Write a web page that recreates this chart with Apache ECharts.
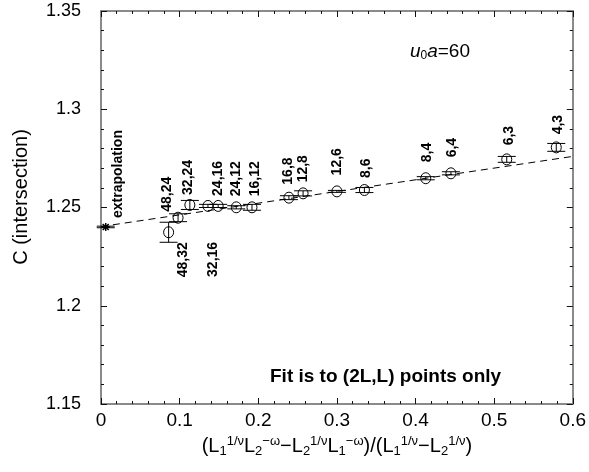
<!DOCTYPE html>
<html>
<head>
<meta charset="utf-8">
<script src="https://cdn.jsdelivr.net/npm/echarts@6/dist/echarts.min.js"></script>
<style>html,body{margin:0;padding:0;background:#fff}#c{width:589px;height:472px}</style>
</head>
<body>
<div id="c"></div>
<script>
// ---- data ----
const pointLabels = ['extrapolation','48,32','48,24','32,24','32,16','24,16','24,12','16,12','16,8','12,8','12,6','8,6','8,4','6,4','6,3','4,3'];
const xValues = [0.006,0.086,0.098,0.113,0.136,0.149,0.172,0.192,0.239,0.257,0.300,0.335,0.413,0.445,0.516,0.579];
const yValues = [1.2401,1.2374,1.2448,1.2513,1.2508,1.2508,1.2501,1.2501,1.2550,1.2572,1.2582,1.2589,1.2649,1.2674,1.2745,1.2806];
const yErrors = [0.0004,0.0051,0.0020,0.0023,0.0008,0.0008,0.0008,0.0015,0.0010,0.0013,0.0005,0.0013,0.0008,0.0008,0.0015,0.0020];
const fitX = [0, 0.6];
const fitY = [1.2403, 1.2760];
const xTicks = [0, 0.1, 0.2, 0.3, 0.4, 0.5, 0.6];
const yTicks = [1.15, 1.2, 1.25, 1.3, 1.35];
// label placement (pixel offsets from the point to the start of the rotated text)
const labelDx = [12,15,-11,-2,5,0,0,3,-1,0,0,2,1,1,2,2];
const labelDy = [-9,45,-6,-10,71,-10,-11,-11,-13,-11,-16,-12,-16,-16,-14,-13];

const pts = xValues.map((x,i)=>[x, yValues[i], yErrors[i], i]);
const chart = echarts.init(document.getElementById('c'), null, {renderer:'canvas'});
const FONT = 'Liberation Sans, Arial, Helvetica, sans-serif';
const axisCommon = {
  axisLine:{show:true, onZero:false, lineStyle:{color:'#8a8a8a', width:2}},
  axisTick:{show:true, inside:true, length:6, lineStyle:{color:'#111', width:1}},
  minorTick:{show:true, splitNumber:5, length:3, lineStyle:{color:'#111', width:1}},
  splitLine:{show:false}
};
const fmt = v => { const s = +v.toFixed(2); return String(s); };
const option = {
  animation:false,
  backgroundColor:'#fff',
  grid:{left:101, right:16, top:11, bottom:68},
  xAxis:[
    Object.assign({type:'value', min:xTicks[0], max:xTicks[xTicks.length-1], interval:0.1, position:'bottom',
      axisLabel:{color:'#000', fontSize:19, fontFamily:FONT, margin:7, formatter:fmt},
      name:'(L{s|1}{p|1/ν}L{s|2}{p|−ω}−L{s|2}{p|1/ν}L{s|1}{p|−ω})/(L{s|1}{p|1/ν}−L{s|2}{p|1/ν})',
      nameLocation:'middle', nameGap:31,
      nameTextStyle:{color:'#000', fontSize:20, fontFamily:FONT,
        rich:{s:{fontSize:13, fontFamily:FONT, color:'#000', verticalAlign:'bottom', padding:[10,0,0,0]},
              p:{fontSize:13, fontFamily:FONT, color:'#000', verticalAlign:'top', padding:[0,0,10,0]}}}
    }, axisCommon),
    Object.assign({type:'value', min:xTicks[0], max:xTicks[xTicks.length-1], interval:0.1, position:'top',
      axisLabel:{show:false}}, axisCommon)
  ],
  yAxis:[
    Object.assign({type:'value', min:yTicks[0], max:yTicks[yTicks.length-1], interval:0.05, position:'left',
      axisLabel:{color:'#000', fontSize:18, fontFamily:FONT, margin:20, padding:[8,0,0,0], formatter:fmt}
    }, axisCommon),
    Object.assign({type:'value', min:yTicks[0], max:yTicks[yTicks.length-1], interval:0.05, position:'right',
      axisLabel:{show:false}}, axisCommon)
  ],
  series:[
    {
      type:'line', data:fitX.map((x,i)=>[x, fitY[i]]), showSymbol:false, symbol:'none',
      lineStyle:{color:'#000', width:1, type:[7,5]}, z:2, silent:true
    },
    {
      type:'custom', data:pts, z:5, silent:true,
      renderItem:function(params, api){
        const x = api.value(0), y = api.value(1), e = api.value(2), idx = api.value(3);
        const c = api.coord([x,y]);
        const lo = api.coord([x, y-e]), hi = api.coord([x, y+e]);
        const cap = 9;
        const st = {stroke:'#000', lineWidth:1, fill:null};
        const ch = [
          {type:'line', shape:{x1:c[0], y1:lo[1], x2:c[0], y2:hi[1]}, style:st},
          {type:'line', shape:{x1:c[0]-cap, y1:lo[1], x2:c[0]+cap, y2:lo[1]}, style:st},
          {type:'line', shape:{x1:c[0]-cap, y1:hi[1], x2:c[0]+cap, y2:hi[1]}, style:st}
        ];
        if (idx === 0) {
          const r = 4;
          ch.push({type:'line', shape:{x1:c[0]-r, y1:c[1], x2:c[0]+r, y2:c[1]}, style:{stroke:'#000', lineWidth:2}});
          ch.push({type:'line', shape:{x1:c[0], y1:c[1]-r, x2:c[0], y2:c[1]+r}, style:{stroke:'#000', lineWidth:1.5}});
          ch.push({type:'line', shape:{x1:c[0]-3, y1:c[1]-3, x2:c[0]+3, y2:c[1]+3}, style:{stroke:'#000', lineWidth:1.5}});
          ch.push({type:'line', shape:{x1:c[0]-3, y1:c[1]+3, x2:c[0]+3, y2:c[1]-3}, style:{stroke:'#000', lineWidth:1.5}});
        } else {
          ch.push({type:'ellipse', shape:{cx:c[0], cy:c[1], rx:5, ry:5.5}, style:{stroke:'#000', lineWidth:1, fill:'rgba(0,0,0,0)'}});
        }
        ch.push({type:'text', x:c[0]+labelDx[idx], y:c[1]+labelDy[idx], rotation:Math.PI/2,
          style:{text:pointLabels[idx], x:0, y:0, align:'left', verticalAlign:'middle',
                 font:'bold 14px ' + FONT, fill:'#000'}});
        return {type:'group', children:ch};
      }
    }
  ],
  graphic:[
    {type:'text', x:21, y:197, rotation:Math.PI/2,
     style:{text:'C (intersection)', x:0, y:0, align:'center', verticalAlign:'middle',
            font:'20px ' + FONT, fill:'#000'}},
    {type:'text', right:119, top:42, style:{
      text:'{i|u}{s|0}{i|a}{n|=60}',
      rich:{i:{fontSize:19, fontStyle:'italic', fontFamily:FONT, fill:'#000'},
            s:{fontSize:12, fontFamily:FONT, fill:'#000', verticalAlign:'bottom', padding:[8,0,0,0]},
            n:{fontSize:19, fontFamily:FONT, fill:'#000'}}
    }},
    {type:'text', left:270, top:367, style:{text:'Fit is to (2L,L) points only', font:'bold 19px ' + FONT, fill:'#000'}}
  ]
};
chart.setOption(option);
</script>
</body>
</html>
